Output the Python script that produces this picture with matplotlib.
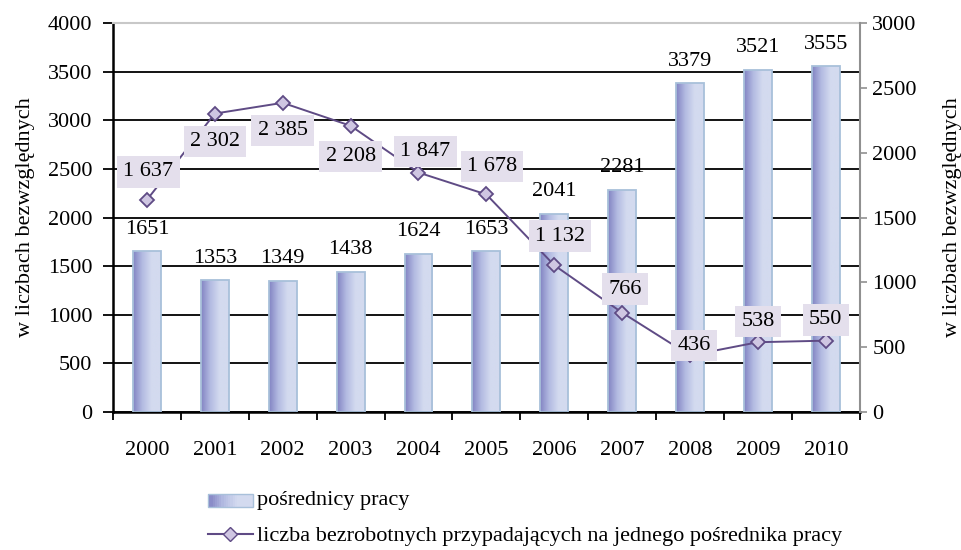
import numpy as np
import matplotlib.pyplot as plt
from matplotlib.colors import LinearSegmentedColormap
from matplotlib.patches import Rectangle
from matplotlib.lines import Line2D
from matplotlib.legend_handler import HandlerBase

plt.rcParams['font.family'] = ['Liberation Serif', 'DejaVu Serif']

years = ['2000', '2001', '2002', '2003', '2004', '2005', '2006', '2007', '2008', '2009', '2010']
posrednicy = [1651, 1353, 1349, 1438, 1624, 1653, 2041, 2281, 3379, 3521, 3555]
bezrobotni = [1637, 2302, 2385, 2208, 1847, 1678, 1132, 766, 436, 538, 550]
bezrobotni_txt = ['1 637', '2 302', '2 385', '2 208', '1 847', '1 678', '1 132', '766', '436', '538', '550']
# label offsets in points (dx, dy) relative to each point
offsets = [(1, 20), (0, -20), (0, -20), (0, -22), (5, 15), (4, 20), (4, 21), (2, 17), (3, 7), (0, 15), (0, 15)]

fs = 16
line_c = '#5f4b85'
cmap = LinearSegmentedColormap.from_list('bar', ['#8384c3', '#b3bbe2', '#d3daef', '#d3daef'])


class GradHandler(HandlerBase):
    def create_artists(self, legend, orig, xd, yd, width, height, fontsize, trans):
        n = 20
        arts = []
        for i in range(n):
            r = Rectangle((xd + width * i / n, yd), width / n + 0.3, height,
                          facecolor=cmap(i / (n - 1)), edgecolor='none', transform=trans)
            arts.append(r)
        arts.append(Rectangle((xd, yd), width, height, facecolor='none',
                              edgecolor='#a8c0da', linewidth=1, transform=trans))
        return arts


fig = plt.figure(figsize=(9.61, 5.5), dpi=100)
ax = fig.add_axes([0.1176, 0.251, 0.777, 0.707])
ax2 = ax.twinx()

x = np.arange(len(years))
w = 0.41
grad = np.linspace(0, 1, 64).reshape(1, -1)

bars = ax.bar(x, posrednicy, width=w, facecolor='none', edgecolor='#a8c0da', linewidth=1.3, zorder=3)
for b, v in zip(bars, posrednicy):
    x0 = b.get_x()
    im = ax.imshow(grad, extent=[x0, x0 + w, 0, v], aspect='auto', cmap=cmap, zorder=2.5,
                   interpolation='bilinear')
    im.set_clip_path(b)
    ax.annotate(str(v), (b.get_x() + w / 2, v), xytext=(0, 16), textcoords='offset points',
                ha='center', va='center', fontsize=fs)

ax.set_xlim(-0.5, len(years) - 0.5)
ax.set_ylim(0, 4000)
ax.set_yticks(np.arange(0, 4001, 500))
ax.set_xticks(x)
ax.set_xticklabels(years)
ax.set_xticks(np.arange(-0.5, len(years)), minor=True)
ax.tick_params(axis='x', which='major', length=0, labelsize=fs, pad=21)
ax.tick_params(axis='x', which='minor', length=6, width=1.3, direction='out')
ax.tick_params(axis='y', length=7, width=1.3, labelsize=fs, direction='out', pad=8)
ax.yaxis.grid(True, color='black', linewidth=1.3)
ax.set_axisbelow(True)
for s in ['left', 'bottom']:
    ax.spines[s].set_linewidth(1.8)
    ax.spines[s].set_color('black')
ax.spines['top'].set_color('#c8c8c8')
ax.spines['top'].set_linewidth(1.5)
ax.spines['right'].set_visible(False)
ax.set_ylabel('w liczbach bezwzględnych', fontsize=fs, labelpad=9)

ax2.plot(x, bezrobotni, color=line_c, linewidth=1.4, marker='D', markersize=7,
         markerfacecolor='#cfc6e2', markeredgecolor=line_c, markeredgewidth=1.3, zorder=5)
for xi, v, t, (dx, dy) in zip(x, bezrobotni, bezrobotni_txt, offsets):
    ax2.annotate(t, (xi, v), xytext=(dx, dy), textcoords='offset points', ha='center', va='center',
                 fontsize=fs, bbox=dict(boxstyle='square,pad=0.28', facecolor='#e4dfec', edgecolor='none'),
                 zorder=6)
ax2.set_ylim(0, 3000)
ax2.set_yticks(np.arange(0, 3001, 500))
ax2.tick_params(axis='y', length=5, width=1.2, color='#909090', labelsize=fs, direction='out', pad=4)
ax2.spines['right'].set_color('#909090')
ax2.spines['right'].set_linewidth(1.5)
for s in ['left', 'top', 'bottom']:
    ax2.spines[s].set_visible(False)
ax2.set_ylabel('w liczbach bezwzględnych', fontsize=fs, labelpad=19)

handles = [Rectangle((0, 0), 1, 1),
           Line2D([0], [0], color=line_c, marker='D', markersize=7,
                  markerfacecolor='#cfc6e2', markeredgecolor=line_c)]
labels = ['pośrednicy pracy', 'liczba bezrobotnych przypadających na jednego pośrednika pracy']
fig.legend(handles, labels, loc='upper left', bbox_to_anchor=(0.2165, 0.107), frameon=False,
           fontsize=fs, labelspacing=0.75, handlelength=2.0, handleheight=0.5, handletextpad=0.2,
           borderpad=0, borderaxespad=0, handler_map={Rectangle: GradHandler()})

fig.savefig('out.png', dpi=100)
